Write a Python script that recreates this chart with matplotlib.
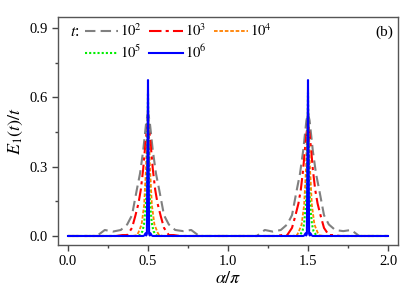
import matplotlib
matplotlib.use("Agg")
import matplotlib.pyplot as plt

plt.rcParams['font.family'] = ['Liberation Serif', 'DejaVu Serif']
plt.rcParams['mathtext.fontset'] = 'stix'

# ---- data (alpha/pi, E1(t)/t) ----
alpha_t2 = [0.00, 0.18, 0.23, 0.28, 0.33, 0.37, 0.40, 0.43, 0.45, 0.47, 0.49, 0.50,
            0.51, 0.53, 0.55, 0.57, 0.60, 0.63, 0.67, 0.72, 0.77, 0.82,
            1.18, 1.23, 1.28, 1.33, 1.37, 1.40, 1.43, 1.45, 1.47, 1.49, 1.50,
            1.51, 1.53, 1.55, 1.57, 1.60, 1.63, 1.67, 1.72, 1.77, 1.82, 2.00]
e_t2 = [0.0, 0.0, 0.026, 0.019, 0.026, 0.05, 0.09, 0.20, 0.27, 0.37, 0.50, 0.53,
        0.50, 0.37, 0.27, 0.20, 0.09, 0.05, 0.026, 0.021, 0.026, 0.0,
        0.0, 0.026, 0.019, 0.026, 0.05, 0.09, 0.20, 0.27, 0.37, 0.50, 0.53,
        0.50, 0.37, 0.27, 0.20, 0.09, 0.05, 0.026, 0.021, 0.026, 0.0, 0.0]

alpha_t3 = [0.00, 0.30, 0.34, 0.37, 0.40, 0.42, 0.44, 0.455, 0.47, 0.48, 0.49, 0.50,
            0.51, 0.52, 0.53, 0.545, 0.56, 0.58, 0.60, 0.63, 0.66, 0.70,
            1.30, 1.34, 1.37, 1.40, 1.42, 1.44, 1.455, 1.47, 1.48, 1.49, 1.50,
            1.51, 1.52, 1.53, 1.545, 1.56, 1.58, 1.60, 1.63, 1.66, 1.70, 2.00]
e_t3 = [0.0, 0.0, 0.004, 0.004, 0.035, 0.085, 0.14, 0.20, 0.29, 0.37, 0.44, 0.49,
        0.44, 0.37, 0.29, 0.20, 0.14, 0.085, 0.035, 0.004, 0.004, 0.0,
        0.0, 0.004, 0.004, 0.035, 0.085, 0.14, 0.20, 0.29, 0.37, 0.44, 0.49,
        0.44, 0.37, 0.29, 0.20, 0.14, 0.085, 0.035, 0.004, 0.004, 0.0, 0.0]

alpha_t4 = [0.00, 0.40, 0.43, 0.44, 0.46, 0.476, 0.488, 0.494, 0.50,
            0.506, 0.512, 0.524, 0.54, 0.56, 0.57, 0.60,
            1.40, 1.43, 1.44, 1.46, 1.476, 1.488, 1.494, 1.50,
            1.506, 1.512, 1.524, 1.54, 1.56, 1.57, 1.60, 2.00]
e_t4 = [0.0, 0.0, 0.003, 0.015, 0.05, 0.135, 0.30, 0.45, 0.56,
        0.45, 0.30, 0.135, 0.05, 0.015, 0.003, 0.0,
        0.0, 0.003, 0.015, 0.05, 0.135, 0.30, 0.45, 0.56,
        0.45, 0.30, 0.135, 0.05, 0.015, 0.003, 0.0, 0.0]

alpha_t5 = [0.00, 0.44, 0.45, 0.465, 0.475, 0.485, 0.492, 0.497, 0.50,
            0.503, 0.508, 0.515, 0.525, 0.535, 0.55, 0.56,
            1.44, 1.45, 1.465, 1.475, 1.485, 1.492, 1.497, 1.50,
            1.503, 1.508, 1.515, 1.525, 1.535, 1.55, 1.56, 2.00]
e_t5 = [0.0, 0.0, 0.005, 0.02, 0.05, 0.12, 0.20, 0.40, 0.62,
        0.40, 0.20, 0.12, 0.05, 0.02, 0.005, 0.0,
        0.0, 0.005, 0.02, 0.05, 0.12, 0.20, 0.40, 0.62,
        0.40, 0.20, 0.12, 0.05, 0.02, 0.005, 0.0, 0.0]

alpha_t6 = [0.00, 0.47, 0.48, 0.485, 0.489, 0.493, 0.496, 0.50,
            0.504, 0.507, 0.511, 0.515, 0.52, 0.53,
            1.47, 1.48, 1.485, 1.489, 1.493, 1.496, 1.50,
            1.504, 1.507, 1.511, 1.515, 1.52, 1.53, 2.00]
e_t6 = [0.0, 0.0, 0.004, 0.012, 0.002, 0.01, 0.30, 0.675,
        0.30, 0.01, 0.002, 0.012, 0.004, 0.0,
        0.0, 0.004, 0.012, 0.002, 0.01, 0.30, 0.675,
        0.30, 0.01, 0.002, 0.012, 0.004, 0.0, 0.0]

labels = [r'$10^2$', r'$10^3$', r'$10^4$', r'$10^5$', r'$10^6$']
colors = ['#808080', '#ff0000', '#ff8000', '#00ee00', '#0000ff']
styles = [(0, (5, 2.5)), (0, (6, 2, 1.5, 2)), (0, (2, 1)), (0, (1, 1)), '-']
widths = [1.5, 1.5, 1.3, 1.5, 1.5]
xs = [alpha_t2, alpha_t3, alpha_t4, alpha_t5, alpha_t6]
ys = [e_t2, e_t3, e_t4, e_t5, e_t6]

fig = plt.figure(figsize=(4.15, 2.94), dpi=100)
ax = fig.add_axes([58/415, 1-245/294, 340/415, 228/294])

lines = []
for x, y, c, s, w, l in zip(xs, ys, colors, styles, widths, labels):
    ln, = ax.plot(x, y, color=c, linestyle=s, linewidth=w, label=l)
    lines.append(ln)

ax.set_xlim(-0.0625, 2.0625)
ax.set_ylim(-0.039, 0.948)
ax.set_xticks([0.0, 0.5, 1.0, 1.5, 2.0])
ax.set_xticks([0.25, 0.75, 1.25, 1.75], minor=True)
ax.set_yticks([0.0, 0.3, 0.6, 0.9])
ax.set_yticks([0.15, 0.45, 0.75], minor=True)
ax.set_xticklabels(['0.0', '0.5', '1.0', '1.5', '2.0'])
ax.set_yticklabels(['0.0', '0.3', '0.6', '0.9'])
ax.tick_params(which='both', direction='out', labelsize=10.5, colors='#444444', labelcolor='black')
ax.tick_params(which='major', length=4, width=1)
ax.tick_params(which='minor', length=2.5, width=1)
for sp in ax.spines.values():
    sp.set_color('#555555')
    sp.set_linewidth(1.0)

ax.set_xlabel(r'$\alpha/\pi$', fontsize=13, labelpad=1)
ax.set_ylabel(r'$E_1(t)/t$', fontsize=13, labelpad=3)

ax.text(0.048, 0.935, r'$t$:', transform=ax.transAxes, fontsize=11.5, ha='center', va='center')
ax.text(0.985, 0.935, '(b)', transform=ax.transAxes, fontsize=11, ha='right', va='center')

order = [0, 3, 1, 4, 2]
ax.legend([lines[i] for i in order], [labels[i] for i in order], ncol=3,
          loc='upper left', bbox_to_anchor=(0.078, 0.975), borderaxespad=0,
          borderpad=0, frameon=False, fontsize=10.5, handlelength=2.3,
          handletextpad=0.15, columnspacing=0.5, labelspacing=0.3)

fig.savefig('out.png', dpi=100)
